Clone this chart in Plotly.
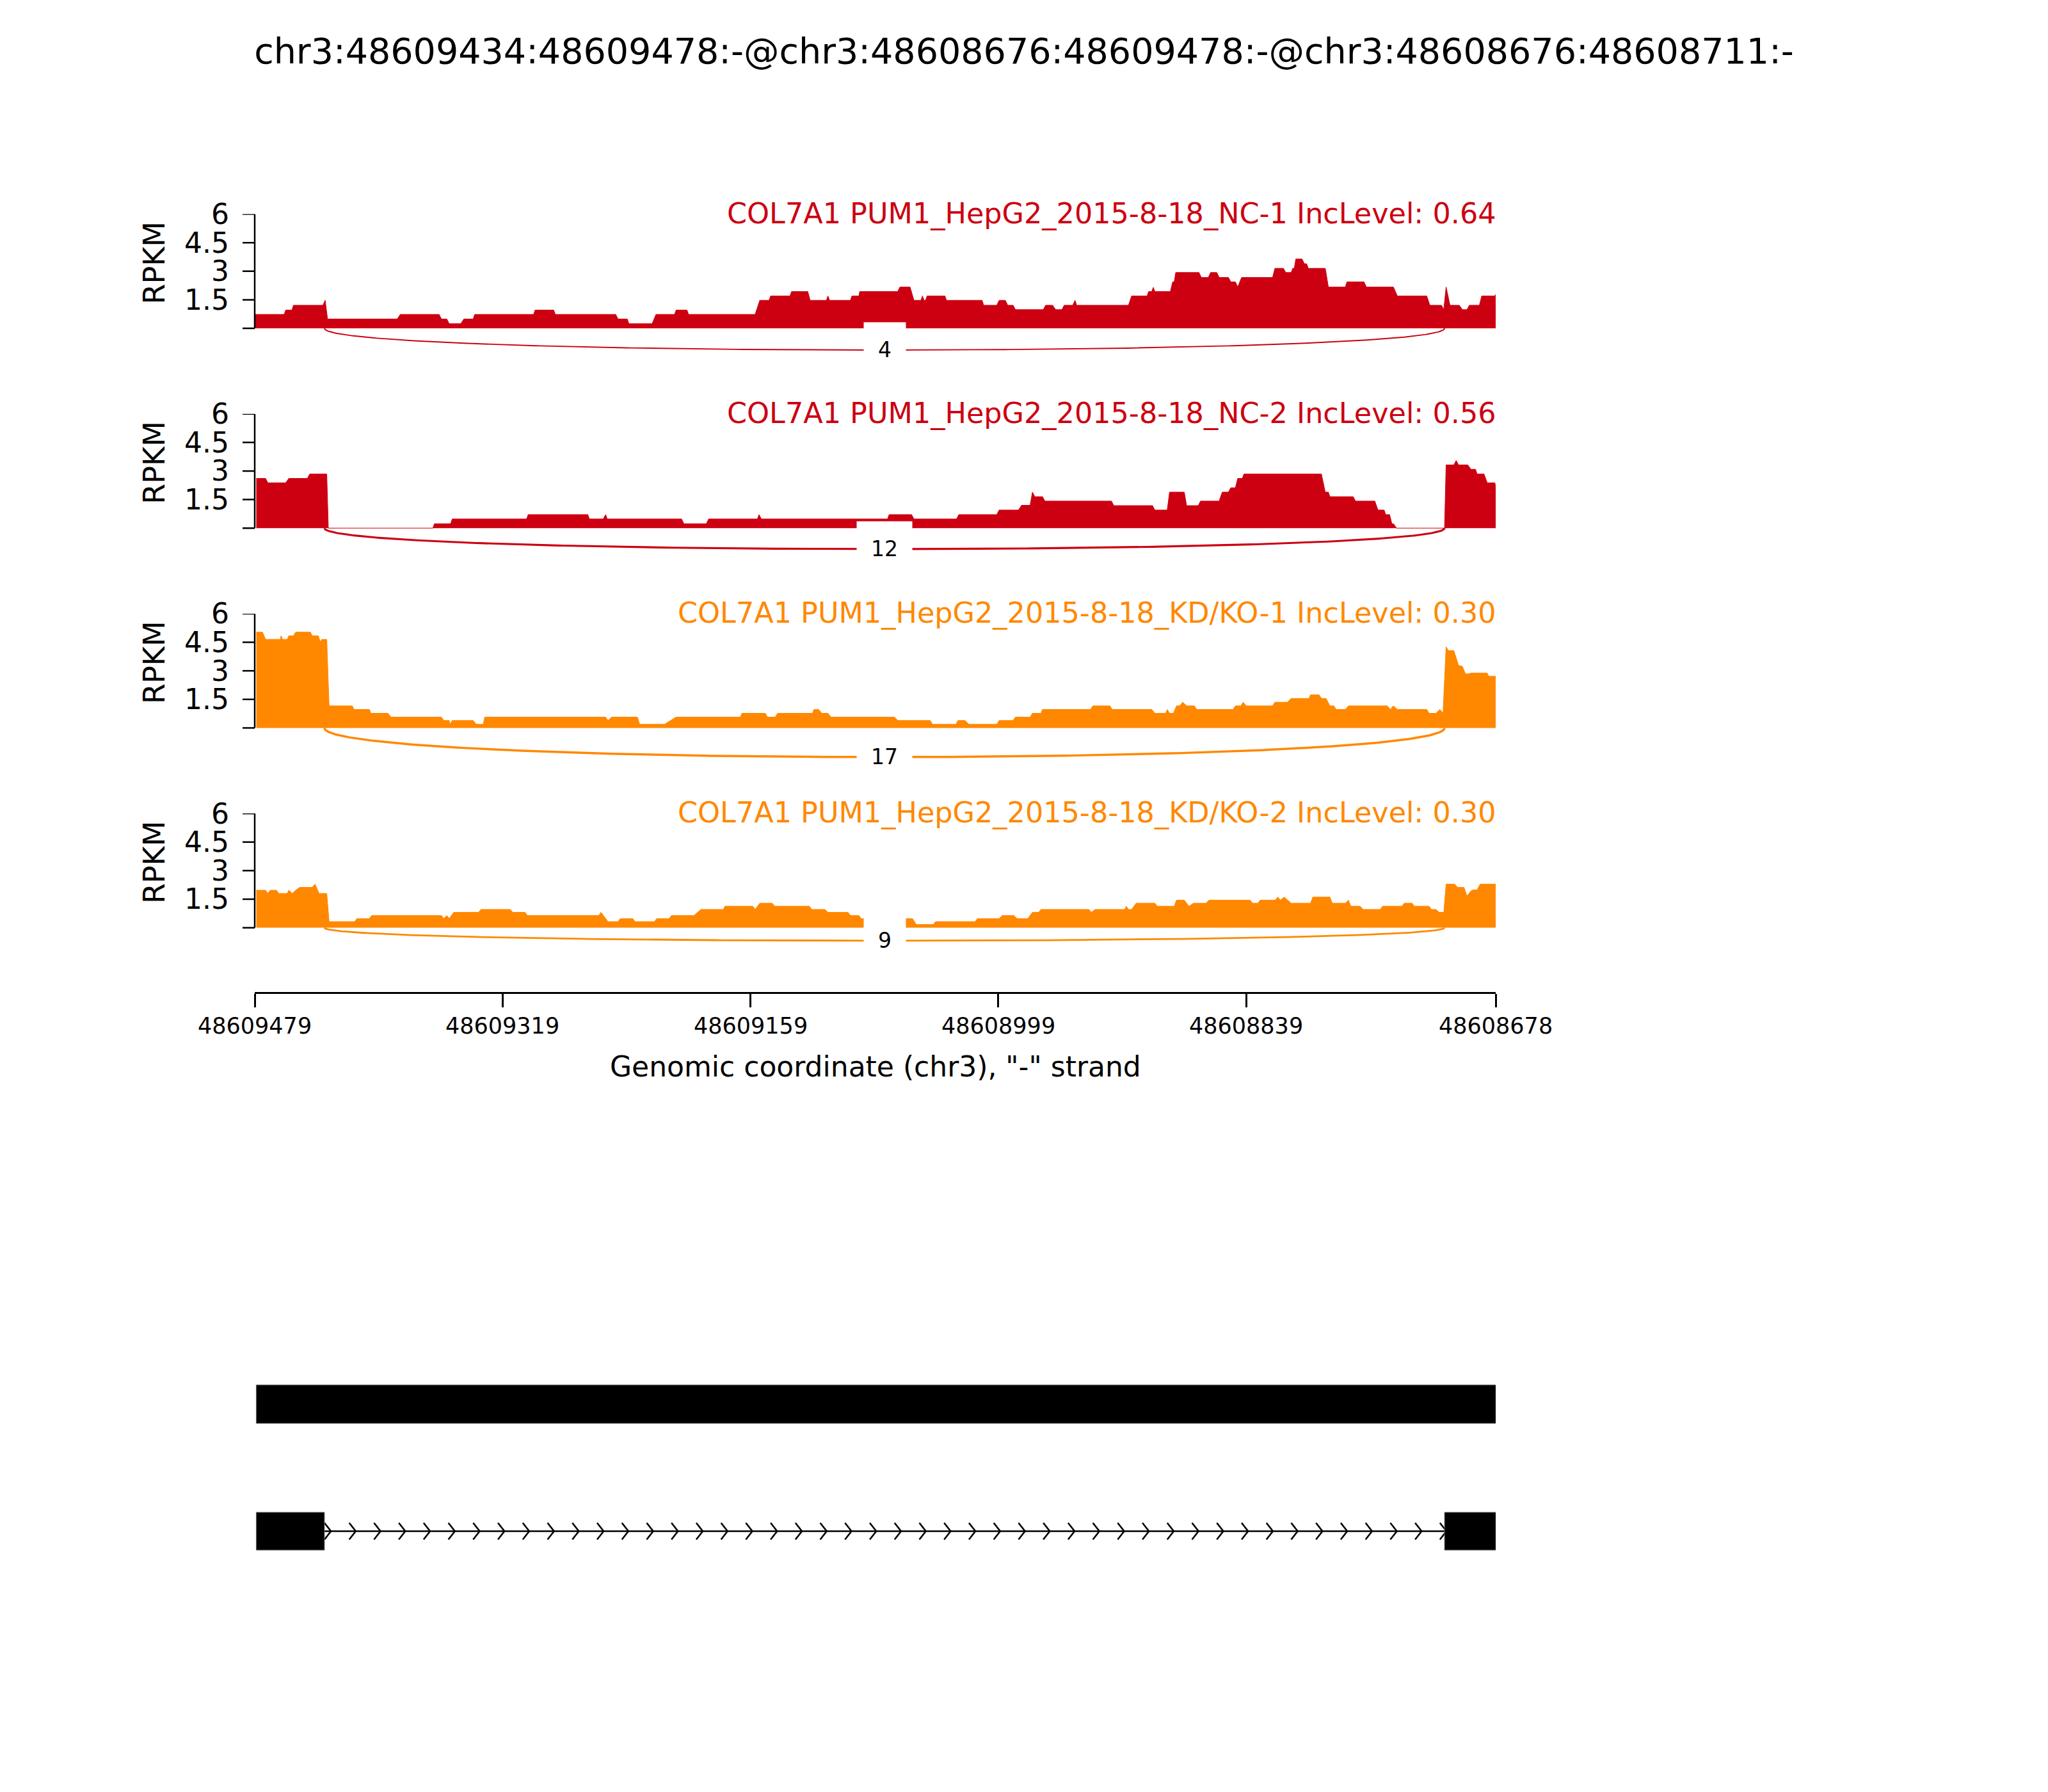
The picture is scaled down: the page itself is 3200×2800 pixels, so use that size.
import numpy as np
import plotly.graph_objects as go

# ---------------- data ----------------
title_text = "chr3:48609434:48609478:-@chr3:48608676:48609478:-@chr3:48608676:48608711:-"
gene_name = "COL7A1"
sample_labels = ["PUM1_HepG2_2015-8-18_NC-1", "PUM1_HepG2_2015-8-18_NC-2",
                 "PUM1_HepG2_2015-8-18_KD/KO-1", "PUM1_HepG2_2015-8-18_KD/KO-2"]
inc_levels = ["0.64", "0.56", "0.30", "0.30"]
sample_colors = ["#CC0011", "#CC0011", "#FF8800", "#FF8800"]
junction_counts = [4, 12, 17, 9]
arc_depth_rpkm = [1.14, 1.10, 1.53, 0.68]

region_left = 48609479          # genomic coordinate of the left edge (minus strand)
region_right = 48608678
x_tick_vals = [48609479, 48609319, 48609159, 48608999, 48608839, 48608678]
x_tick_labels = ["48609479", "48609319", "48609159", "48608999", "48608839", "48608678"]
y_tick_vals = [0, 1.5, 3, 4.5, 6]
y_tick_labels = ["", "1.5", "3", "4.5", "6"]
x_title = 'Genomic coordinate (chr3), "-" strand'

junction_donor = 48609434
junction_acceptor = 48608711
isoform1_exons = [(48608676, 48609478)]
isoform2_exons = [(48609434, 48609478), (48608676, 48608711)]
chevron_step_bp = 16

# coverage: (offset start bp, offset end bp, RPKM), offset = bp from the left edge
nc1_cov = [(0, 19, 0.73), (20, 24, 0.96), (25, 44, 1.21), (45.5, 45.5, 1.47), (47, 92, 0.49),
           (94, 119, 0.73), (120.5, 124, 0.49), (125.5, 133, 0.24), (135, 141, 0.49), (142, 180, 0.73),
           (181, 193, 0.96), (194, 233, 0.73), (234.5, 240.5, 0.49), (241.5, 256.5, 0.24), (259, 271, 0.73),
           (272, 279, 0.96), (280, 323, 0.73), (326, 332, 1.47), (333, 345.5, 1.70), (346.5, 357, 1.93),
           (358.5, 369, 1.47), (370, 370, 1.70), (371, 384.5, 1.47), (385.5, 390, 1.70), (390.5, 415, 1.93),
           (416.5, 423, 2.17), (425.5, 430, 1.47), (431, 431, 1.70), (432, 433, 1.47), (434, 445.5, 1.70),
           (446.5, 469.5, 1.47), (470.5, 479, 1.21), (480.5, 484.5, 1.47), (486, 489.5, 1.21), (491, 509, 0.98),
           (510.5, 515, 1.21), (517, 521, 0.98), (522.5, 528, 1.21), (529.5, 529.5, 1.47), (530.5, 564, 1.21),
           (566, 576, 1.70), (577, 579, 1.93), (580, 580, 2.15), (581, 591, 1.93), (592.5, 593.5, 2.44),
           (594.5, 609.5, 2.93), (611, 615.5, 2.67), (617, 621, 2.93), (622.5, 628.5, 2.67), (630, 633, 2.44),
           (634.5, 634.5, 2.17), (637, 657, 2.67), (658.5, 664, 3.15), (665.5, 669, 2.93), (670, 671, 3.15),
           (672, 676, 3.64), (677.5, 679, 3.39), (680, 691, 3.15), (693, 704, 2.17), (705, 716, 2.44),
           (717.5, 735, 2.17), (737.5, 756.5, 1.70), (758.5, 766, 1.21), (767.5, 767.5, 0.99), (769, 769, 2.17),
           (771.5, 777.5, 1.21), (779.5, 782.5, 0.98), (784, 790.5, 1.21), (792, 800.5, 1.70), (801, 801, 1.79)]

nc2_cov = [(1, 7, 2.61), (8.5, 20, 2.38), (22, 34, 2.61), (35.5, 46.5, 2.84), (47.5, 115, 0.0),
           (116, 126.5, 0.23), (127.5, 175.5, 0.48), (176.5, 215, 0.71), (216, 225, 0.48), (226.5, 226.5, 0.71),
           (227.5, 275.5, 0.48), (277, 291.5, 0.23), (293, 324.5, 0.48), (325.5, 325.5, 0.71), (327, 408.5, 0.48),
           (409.5, 424, 0.71), (425.5, 453, 0.48), (454.5, 479, 0.71), (480.5, 493, 0.95), (495, 500.5, 1.20),
           (502, 502, 1.89), (503.5, 508.5, 1.65), (510, 553, 1.42), (554.5, 579.5, 1.18), (581, 589, 0.95),
           (590.5, 600, 1.89), (601.5, 609, 1.18), (610.5, 622.5, 1.42), (624.5, 628.5, 1.89), (630, 633, 2.12),
           (634.5, 637.5, 2.61), (638.5, 688.5, 2.84), (691, 693, 1.89), (694, 709, 1.65), (710.5, 723, 1.42),
           (725, 729, 0.95), (730, 732.5, 0.71), (734, 735, 0.23), (737, 768, 0.0), (769, 774, 3.32),
           (775.5, 775.5, 3.55), (777, 783, 3.32), (785, 788, 3.09), (789, 793.5, 2.84), (795.5, 800.5, 2.38),
           (801, 801, 2.12)]

kd1_cov = [(1, 5, 5.03), (7, 16.5, 4.65), (17, 17, 4.84), (18, 21, 4.65), (22, 25, 4.84), (26.5, 36, 5.03),
           (37, 41, 4.84), (42.3, 42.3, 4.52), (43.3, 46.5, 4.65), (48, 63, 1.16), (64, 74, 0.97), (75, 86, 0.77),
           (88, 120.5, 0.57), (122, 125.5, 0.39), (126, 126, 0.19), (127.5, 141, 0.39), (143, 147.5, 0.19),
           (148.5, 226.5, 0.57), (228, 228, 0.39), (230.5, 247, 0.57), (248.5, 264.5, 0.19), (272, 313.5, 0.57),
           (314.5, 329.5, 0.77), (331, 336, 0.57), (337.5, 360, 0.77), (361, 364, 0.97), (366, 370, 0.77),
           (372, 413, 0.57), (415, 436, 0.39), (437.5, 452.5, 0.19), (454, 458.5, 0.39), (461, 479, 0.19),
           (480.5, 489.5, 0.39), (491, 500.5, 0.57), (502, 507.5, 0.77), (508.5, 539.5, 0.97), (541, 552, 1.16),
           (553.5, 579, 0.97), (581, 588, 0.77), (589, 589, 0.97), (590.5, 593, 0.77), (595, 597, 1.16),
           (599, 599, 1.35), (601.5, 606.5, 1.16), (608, 631.5, 0.97), (633, 636.5, 1.16), (638, 638, 1.35),
           (640, 657, 1.16), (658.5, 666.5, 1.35), (669, 680.5, 1.55), (681.5, 687, 1.74), (688.5, 691.5, 1.55),
           (694, 696.5, 1.16), (698, 704, 0.97), (706, 731, 1.16), (733, 733, 0.97), (735, 735, 1.16),
           (737.5, 756.5, 0.97), (758, 762.5, 0.77), (765, 765, 0.97), (767, 767, 0.77), (769, 769, 4.26),
           (770.5, 774, 4.06), (777, 777, 3.29), (779.5, 779.5, 3.23), (781.5, 783.5, 2.84), (785, 795.5, 2.88),
           (796.5, 801, 2.71)]

kd2_cov = [(1, 7, 1.97), (8.5, 8.5, 1.80), (10, 14, 1.97), (15.5, 21, 1.80), (22, 22, 1.97), (24.3, 24.3, 1.80),
           (26.5, 26.5, 1.97), (29, 37, 2.12), (39, 39, 2.29), (41.5, 46.5, 1.80), (48, 64.5, 0.32),
           (66, 74, 0.48), (75.5, 120.5, 0.64), (122, 122, 0.48), (124, 124, 0.64), (125.5, 125.5, 0.48),
           (128.5, 144.5, 0.81), (146, 165, 0.96), (166.5, 174.5, 0.81), (176, 222, 0.64), (223.5, 223.5, 0.81),
           (228, 234.5, 0.32), (236, 244, 0.48), (245.5, 258, 0.32), (259.5, 267.5, 0.48), (269, 283.5, 0.64),
           (288, 302.5, 0.96), (303.5, 321.5, 1.13), (323, 323, 0.96), (326, 334, 1.29), (335.5, 358, 1.13),
           (359.5, 368, 0.96), (370, 383, 0.81), (384.5, 390, 0.64), (391.5, 424.5, 0.48), (427, 438, 0.17),
           (439.5, 465, 0.32), (466.5, 480.5, 0.48), (482.5, 490, 0.64), (492, 499, 0.48), (502, 506, 0.81),
           (507.5, 538.5, 0.96), (540, 540, 0.81), (542.5, 561.5, 0.96), (562.5, 562.5, 1.13), (564, 566, 0.96),
           (569, 581, 1.29), (582.5, 593.5, 1.13), (595, 600, 1.45), (603, 603, 1.13), (606, 614, 1.29),
           (616, 642.5, 1.45), (644, 647.5, 1.29), (649, 658.5, 1.45), (660.5, 660.5, 1.61), (662, 662, 1.45),
           (664.5, 664.5, 1.61), (669, 681.5, 1.29), (683, 694, 1.61), (695.5, 704, 1.29), (706, 706, 1.45),
           (707.5, 713.5, 1.13), (715.5, 726.5, 0.96), (728, 740.5, 1.13), (742, 747, 1.29), (748.5, 758, 1.13),
           (759.5, 762.5, 0.96), (764.5, 767.5, 0.81), (769, 774.5, 2.29), (776.5, 780.5, 2.12),
           (782.5, 782.5, 1.67), (785, 785, 1.93), (786.5, 789, 1.99), (791, 801, 2.29)]

coverages = [nc1_cov, nc2_cov, kd1_cov, kd2_cov]

# ---------------- layout geometry (pixels) ----------------
W, H = 3200, 2800
FONT = "DejaVu Sans"
X0_PX, X1_PX = 398, 2337
PANEL_TOP0, PANEL_STEP = 334.5, 312.2
PX_PER_UNIT = 29.75
Y_MIN, Y_MAX = -2.0, 6.0
YTICK_LEN = 19
XAXIS_Y = 1551


def fx(px):
    return px / W


def fy(py):
    return 1 - py / H


fig = go.Figure()
layout_axes = {}
annotations = []
shapes = []

t = np.linspace(0, 1, 300)
tick_frac = YTICK_LEN / (X1_PX - X0_PX)
for i in range(4):
    n = i + 1
    sx = "" if n == 1 else str(n)
    xa, ya = "x" + sx, "y" + sx
    color = sample_colors[i]

    xs, ys = [], []
    for s, e, v in coverages[i]:
        if s == e:
            xs.append(region_left - s)
            ys.append(v)
        else:
            xs += [region_left - s, region_left - e]
            ys += [v, v]
    fig.add_trace(go.Scatter(x=xs, y=ys, mode="lines", fill="tozeroy", fillcolor=color,
                             line=dict(color=color, width=1), xaxis=xa, yaxis=ya,
                             hoverinfo="skip", showlegend=False))

    # junction arc (cubic Bezier below the track)
    h = arc_depth_rpkm[i] / 0.75
    g1, g2 = junction_donor, junction_acceptor
    bx = (1 - t) ** 3 * g1 + 3 * (1 - t) ** 2 * t * g1 + 3 * (1 - t) * t ** 2 * g2 + t ** 3 * g2
    by = -h * (3 * (1 - t) ** 2 * t + 3 * (1 - t) * t ** 2)
    lw = np.log10(junction_counts[i] + 1) * 200 / 72
    fig.add_trace(go.Scatter(x=bx, y=by, mode="lines", line=dict(color=color, width=lw),
                             xaxis=xa, yaxis=ya, hoverinfo="skip", showlegend=False))

    top = PANEL_TOP0 + PANEL_STEP * i
    bottom = top + (Y_MAX - Y_MIN) * PX_PER_UNIT

    xaxis = dict(domain=[fx(X0_PX), fx(X1_PX)], range=[region_left, region_right], anchor=ya,
                 showgrid=False, zeroline=False, showline=False, showticklabels=False, ticks="",
                 automargin=False)
    if n == 4:
        xaxis.update(anchor="free", position=fy(XAXIS_Y), showline=True, linewidth=3, linecolor="black",
                     ticks="outside", ticklen=21, tickwidth=2.5, tickcolor="black",
                     tickmode="array", tickvals=x_tick_vals, showticklabels=False)
    layout_axes["xaxis" + sx] = xaxis
    layout_axes["yaxis" + sx] = dict(domain=[fy(bottom), fy(top)], range=[Y_MIN, Y_MAX], anchor=xa,
                                     showgrid=False, zeroline=False, showline=False, automargin=False,
                                     ticks="", showticklabels=False)
    # y spine only from 0 to 6, with tick marks and labels
    shapes.append(dict(type="line", xref=xa + " domain", yref=ya, x0=0, x1=0, y0=0, y1=Y_MAX,
                       line=dict(color="black", width=2.5)))
    for tv, tl in zip(y_tick_vals, y_tick_labels):
        shapes.append(dict(type="line", xref=xa + " domain", yref=ya, x0=-tick_frac, x1=0, y0=tv, y1=tv,
                           line=dict(color="black", width=2.5)))
        if tl:
            annotations.append(dict(text=tl, xref="paper", yref=ya, x=fx(X0_PX - YTICK_LEN - 19), y=tv,
                                    xanchor="right", yanchor="middle", showarrow=False,
                                    font=dict(family=FONT, size=44, color="black")))

    annotations.append(dict(text=f"{gene_name} {sample_labels[i]} IncLevel: {inc_levels[i]}",
                            xref="paper", yref="paper", x=fx(2340), y=fy(top - 1), xanchor="right",
                            yanchor="middle", showarrow=False,
                            font=dict(family=FONT, size=44.5, color=color)))
    annotations.append(dict(text="RPKM", xref="paper", yref="paper", x=fx(241), y=fy(top + 76),
                            textangle=-90, xanchor="center", yanchor="middle", showarrow=False,
                            font=dict(family=FONT, size=46, color="black")))
    annotations.append(dict(text=str(junction_counts[i]), xref=xa, yref=ya, x=(g1 + g2) / 2,
                            y=-arc_depth_rpkm[i], showarrow=False, bgcolor="white", borderpad=22,
                            height=41, xanchor="center", yanchor="middle",
                            font=dict(family=FONT, size=33, color="black")))

# x tick labels and x-axis title
for tv, tl in zip(x_tick_vals, x_tick_labels):
    annotations.append(dict(text=tl, xref="x4", yref="paper", x=tv, y=fy(1603), xanchor="center",
                            yanchor="middle", showarrow=False, font=dict(family=FONT, size=35, color="black")))
annotations.append(dict(text=x_title, xref="paper", yref="paper", x=fx((X0_PX + X1_PX) / 2), y=fy(1667),
                        xanchor="center", yanchor="middle", showarrow=False,
                        font=dict(family=FONT, size=44, color="black")))

# ---------------- gene model ----------------
GY_TOP, GY_BOT = 2100, 2500
layout_axes["xaxis5"] = dict(domain=[fx(X0_PX), fx(X1_PX)], range=[region_left, region_right], anchor="y5",
                             visible=False, automargin=False)
layout_axes["yaxis5"] = dict(domain=[fy(GY_BOT), fy(GY_TOP)], range=[GY_BOT, GY_TOP], anchor="x5",
                             visible=False, automargin=False)
track1 = (2164, 2224)
track2 = (2363, 2422)
track2_mid = (track2[0] + track2[1]) / 2

for a, b in isoform1_exons:
    shapes.append(dict(type="rect", xref="x5", yref="y5", x0=b, x1=a, y0=track1[0], y1=track1[1],
                       fillcolor="black", line=dict(color="#666666", width=1), layer="above"))
for a, b in isoform2_exons:
    shapes.append(dict(type="rect", xref="x5", yref="y5", x0=b, x1=a, y0=track2[0], y1=track2[1],
                       fillcolor="black", line=dict(color="#666666", width=1), layer="above"))

intron_l = isoform2_exons[0][0]
intron_r = isoform2_exons[1][1]
fig.add_trace(go.Scatter(x=[intron_l, intron_r], y=[track2_mid, track2_mid], mode="lines",
                         line=dict(color="black", width=2.5), xaxis="x5", yaxis="y5",
                         hoverinfo="skip", showlegend=False))
cx, cy = [], []
g = intron_l
while g > intron_r - chevron_step_bp / 2:
    cx += [g, g - 4.2, g, None]
    cy += [track2_mid - 13, track2_mid, track2_mid + 13, None]
    g -= chevron_step_bp
fig.add_trace(go.Scatter(x=cx, y=cy, mode="lines", line=dict(color="black", width=2.6),
                         xaxis="x5", yaxis="y5", hoverinfo="skip", showlegend=False))

fig.update_layout(
    width=W, height=H, margin=dict(l=0, r=0, t=0, b=0, pad=0, autoexpand=False),
    paper_bgcolor="white", plot_bgcolor="rgba(0,0,0,0)", showlegend=False,
    title=dict(text=title_text, x=0.5, xanchor="center", y=fy(80), yanchor="middle",
               font=dict(family=FONT, size=55.5, color="black")),
    annotations=annotations, shapes=shapes,
    **layout_axes,
)

fig.write_html("out.html", config={"displayModeBar": False},
               post_script="document.body.style.margin='0px';")
